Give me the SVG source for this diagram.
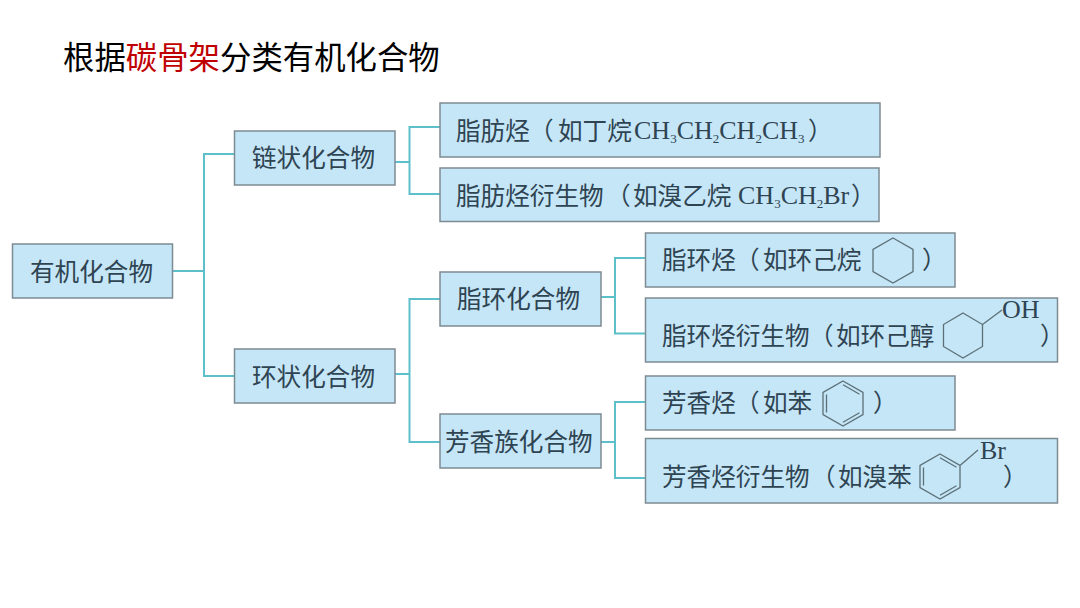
<svg xmlns="http://www.w3.org/2000/svg" width="1080" height="608" viewBox="0 0 1080 608">
<style>
.box{fill:#c5e6f7;stroke:#7d8b93;stroke-width:1.500}
.t{font-family:"Noto Sans CJK SC","Noto Sans",sans-serif;font-size:24.600px;fill:#2f4452}
.f{font-family:"Liberation Serif","Noto Sans CJK SC",serif;font-size:26px;fill:#2f4452}
.s{font-size:13px}
.r{fill:none;stroke:#5d7078;stroke-width:1.300}
.c{fill:none;stroke:#5cbfc9;stroke-width:2}
.title{font-family:"Noto Sans CJK SC","Noto Sans",sans-serif;font-size:31.400px;fill:#000}
</style>
<rect width="1080" height="608" fill="#fff"/>
<text class="title" x="63" y="69">根据<tspan fill="#c00000">碳骨架</tspan>分类有机化合物</text>
<g id="connectors">
<path class="c" d="M172.500 271H204M234.500 154H204V376H234.500"/>
<path class="c" d="M395 162H409.500M440 127H409.500V194H440"/>
<path class="c" d="M395 374H409.500M440 299H409.500V442H440"/>
<path class="c" d="M601 297H615M645.500 258H615V333.500H645.500"/>
<path class="c" d="M601 442H615M645.500 402H615V478H645.500"/>
</g>
<g id="n-root"><rect class="box" x="12.500" y="244" width="160" height="54"/><text class="t" x="30" y="281">有机化合物</text></g>
<g id="n-chain"><rect class="box" x="234.500" y="131" width="160.500" height="54"/><text class="t" x="252" y="167">链状化合物</text></g>
<g id="n-ring"><rect class="box" x="234.500" y="349" width="160.500" height="54"/><text class="t" x="252" y="386">环状化合物</text></g>
<g id="n-alkane"><rect class="box" x="440" y="103" width="440" height="54"/>
<text class="t" x="456" y="140">脂肪烃</text><text class="t" x="529" y="140">（</text><text class="t" x="558" y="140">如丁烷</text>
<text class="f" x="634" y="139">CH<tspan class="s" dy="4">3</tspan><tspan dy="-4">CH</tspan><tspan class="s" dy="4">2</tspan><tspan dy="-4">CH</tspan><tspan class="s" dy="4">2</tspan><tspan dy="-4">CH</tspan><tspan class="s" dy="4">3</tspan></text>
<text class="t" x="808" y="140">）</text></g>
<g id="n-alkane-d"><rect class="box" x="440" y="168" width="439" height="53.500"/>
<text class="t" x="456" y="205">脂肪烃衍生物</text><text class="t" x="606" y="205">（</text><text class="t" x="633" y="205">如溴乙烷</text>
<text class="f" x="738" y="204">CH<tspan class="s" dy="4">3</tspan><tspan dy="-4">CH</tspan><tspan class="s" dy="4">2</tspan><tspan dy="-4">Br</tspan></text>
<text class="t" x="851" y="205">）</text></g>
<g id="n-alicyclic"><rect class="box" x="440" y="272" width="161" height="54"/><text class="t" x="457" y="308">脂环化合物</text></g>
<g id="n-aromatic"><rect class="box" x="440" y="414" width="161" height="54"/><text class="t" x="445" y="451">芳香族化合物</text></g>
<g id="n-cycloalkane"><rect class="box" x="645.500" y="233" width="309.500" height="54"/>
<text class="t" x="662" y="269">脂环烃</text><text class="t" x="735" y="269">（</text><text class="t" x="763" y="269">如环己烷</text>
<polygon class="r" points="893,238 913,249.500 913,271.500 893,283 873,271.500 873,249.500"/>
<text class="t" x="922" y="269">）</text></g>
<g id="n-cycloalkane-d"><rect class="box" x="645.500" y="298" width="412" height="64"/>
<text class="t" x="662" y="345">脂环烃衍生物</text><text class="t" x="809" y="345">（</text><text class="t" x="836" y="345">如环己醇</text>
<path class="r" d="M963 313L982.500 324.500V346.500L963 358L943.500 346.500V324.500ZM982.500 324.500L1002 310"/>
<text class="f" x="1002" y="318">OH</text>
<text class="t" x="1040" y="345">）</text></g>
<g id="n-arene"><rect class="box" x="645.500" y="376" width="309.500" height="54"/>
<text class="t" x="662" y="412">芳香烃</text><text class="t" x="735" y="412">（</text><text class="t" x="763" y="412">如苯</text>
<path class="r" d="M843 381L863 392.500V414.500L843 426L823 414.500V392.500ZM826.500 394.500V412.500M843 384.800L859.500 394.300M859.500 412.700L843 422.200"/>
<text class="t" x="873" y="412">）</text></g>
<g id="n-arene-d"><rect class="box" x="645.500" y="438.500" width="412" height="64.500"/>
<text class="t" x="662" y="486">芳香烃衍生物</text><text class="t" x="811" y="486">（</text><text class="t" x="838" y="486">如溴苯</text>
<path class="r" d="M940 454L960 465.500V487.500L940 499L920 487.500V465.500ZM923.500 467.500V485.500M940 457.800L956.500 467.300M956.500 485.700L940 495.200M960 465.500L978 450"/>
<text class="f" x="980" y="459">Br</text>
<text class="t" x="1003" y="486">）</text></g>
</svg>
